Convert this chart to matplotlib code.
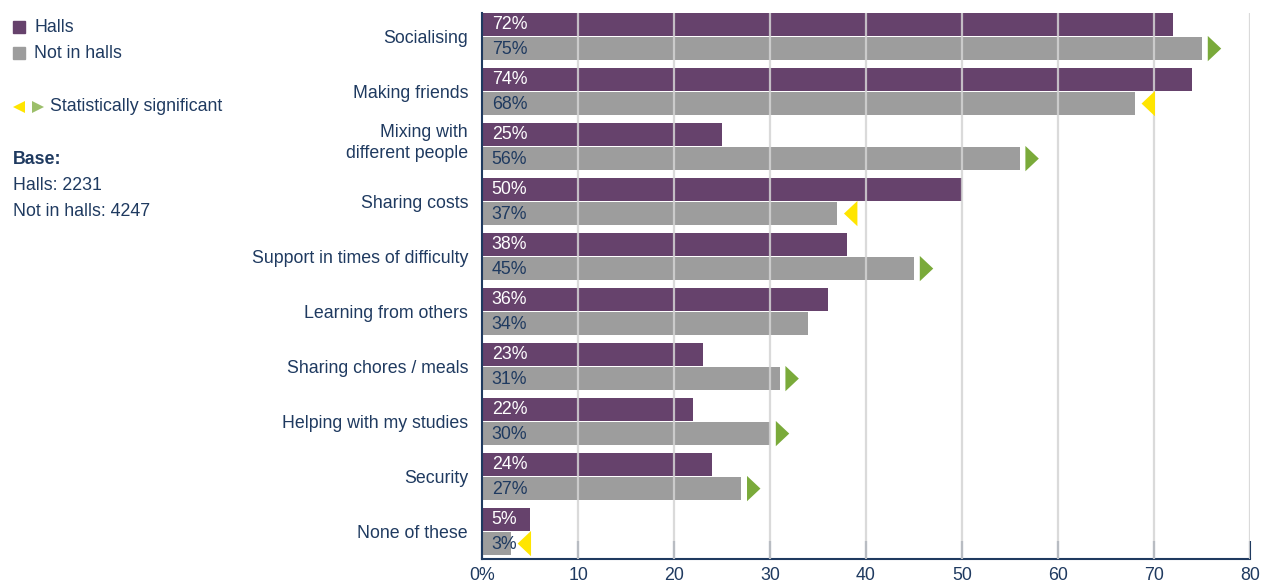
import numpy as np
import matplotlib.pyplot as plt
import matplotlib.patches as patches
import matplotlib.transforms as mtrans

plt.rcParams['font.family'] = ['Liberation Sans', 'DejaVu Sans']

categories = ["Socialising", "Making friends", "Mixing with\ndifferent people",
              "Sharing costs", "Support in times of difficulty", "Learning from others",
              "Sharing chores / meals", "Helping with my studies", "Security", "None of these"]
halls = [72, 74, 25, 50, 38, 36, 23, 22, 24, 5]
not_halls = [75, 68, 56, 37, 45, 34, 31, 30, 27, 3]
# +1 = significantly higher (green), -1 = significantly lower (yellow), 0 = none
signif = [1, -1, 1, -1, 1, 0, 1, 1, 1, -1]
xticks = [0, 10, 20, 30, 40, 50, 60, 70, 80]
xticklabels = ["0%", "10", "20", "30", "40", "50", "60", "70", "80"]

purple = '#66426c'
grey = '#9d9d9d'
navy = '#1f3a60'
green = '#7aaa3a'
yellow = '#ffe500'
fs = 12.8

W, H = 1262, 583
fig = plt.figure(figsize=(W / 100, H / 100), dpi=100)
ax = fig.add_axes([0.382, 0.0412, 0.6085, 0.9365])

y = np.arange(len(categories))
h = 0.42
ax.barh(y - 0.22, halls, height=h, color=purple, zorder=2)
ax.barh(y + 0.22, not_halls, height=h, color=grey, zorder=2)

for i in range(len(categories)):
    ax.text(1.0, y[i] - 0.21, f"{halls[i]}%", color='white', fontsize=fs,
            va='center', ha='left', zorder=5)
    ax.text(1.0, y[i] + 0.23, f"{not_halls[i]}%", color=navy, fontsize=fs,
            va='center', ha='left', zorder=5)
    v = not_halls[i]
    yc = y[i] + 0.22
    if signif[i] == 1:
        pts = [(v + 0.6, yc - 0.23), (v + 0.6, yc + 0.23), (v + 2.0, yc)]
        ax.add_patch(patches.Polygon(pts, closed=True, color=green, zorder=4, lw=0))
    elif signif[i] == -1:
        pts = [(v + 2.1, yc - 0.23), (v + 2.1, yc + 0.23), (v + 0.7, yc)]
        ax.add_patch(patches.Polygon(pts, closed=True, color=yellow, zorder=4, lw=0))

ax.set_xlim(0, 80)
ax.set_ylim(9.5, -0.427)
ax.set_xticks(xticks)
ax.set_xticklabels(xticklabels, fontsize=fs, color=navy)
ax.set_yticks([])
ax.tick_params(axis='x', direction='in', length=13, width=1.5, color=navy, pad=6)

# category labels, right aligned next to the axis
lab_tr = mtrans.blended_transform_factory(ax.transAxes, ax.transData)
for i, c in enumerate(categories):
    if '\n' in c:
        dy, va = -0.06, 'center'
    else:
        dy, va = 0.0, 'center_baseline'
    ax.text(-14 / 768, y[i] + dy, c, transform=lab_tr, fontsize=fs, color=navy,
            ha='right', va=va, multialignment='right', linespacing=1.34)

for s in ['top', 'right']:
    ax.spines[s].set_visible(False)
for s in ['left', 'bottom']:
    ax.spines[s].set_color(navy)
    ax.spines[s].set_linewidth(1.5)

for xv in xticks[1:]:
    ax.axvline(xv, color='#d4d4d4', lw=1.6, alpha=0.85, zorder=3)

# legend block on the left
def px(xp, yp):
    return (xp / W, 1 - yp / H)

fig.patches.append(patches.Rectangle(px(13, 33), 12 / W, 12 / H,
                                     transform=fig.transFigure, color=purple))
fig.patches.append(patches.Rectangle(px(13, 59), 12 / W, 12 / H,
                                     transform=fig.transFigure, color=grey))
fig.text(*px(34, 27), "Halls", fontsize=fs, color=navy, va='center')
fig.text(*px(34, 53), "Not in halls", fontsize=fs, color=navy, va='center')
fig.patches.append(patches.Polygon([px(13, 107), px(25, 101), px(25, 113)],
                                   closed=True, transform=fig.transFigure, color=yellow, lw=0))
fig.patches.append(patches.Polygon([px(44, 107), px(32, 101), px(32, 113)],
                                   closed=True, transform=fig.transFigure, color='#9cbf6a', lw=0))
fig.text(*px(50, 106), "Statistically significant", fontsize=fs, color=navy, va='center')
fig.text(*px(13, 160), "Base:", fontsize=fs, color=navy, va='center', weight='bold')
fig.text(*px(13, 186), "Halls: 2231", fontsize=fs, color=navy, va='center')
fig.text(*px(13, 212), "Not in halls: 4247", fontsize=fs, color=navy, va='center')

fig.savefig('out.png', dpi=100)
